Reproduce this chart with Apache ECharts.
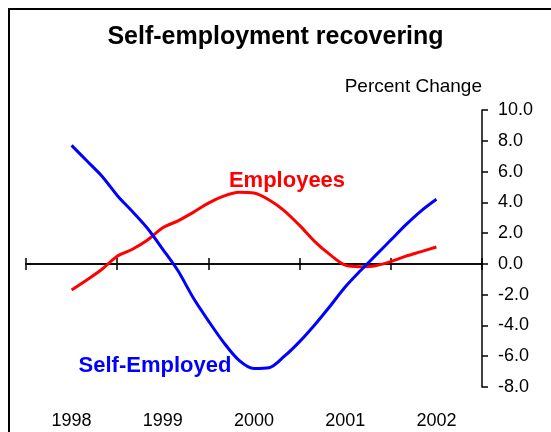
<!DOCTYPE html>
<html>
<head>
<meta charset="utf-8">
<script src="https://cdn.jsdelivr.net/npm/echarts@6/dist/echarts.min.js"></script>
<style>
  html, body { margin: 0; padding: 0; background: #fff; }
  #chart { width: 551px; height: 432px; }
</style>
</head>
<body>
<div id="chart"></div>
<script>
  // year labels on the category axis
  const years = ['1998', '1999', '2000', '2001', '2002']
  // months since Jan 1998 for each reading
  const months = [0, 2, 4, 6, 8, 10, 12, 14, 16, 18, 20, 22, 24, 26, 28, 30, 32, 34, 36, 38, 40, 42, 44, 46, 48]
  const employees = [-1.7, -1.05, -0.35, 0.5, 0.95, 1.55, 2.35, 2.8, 3.35, 3.95, 4.4, 4.65, 4.6,
    4.15, 3.45, 2.5, 1.45, 0.6, -0.08, -0.18, -0.12, 0.15, 0.5, 0.8, 1.1]
  const selfEmployed = [7.7, 6.7, 5.7, 4.45, 3.4, 2.3, 0.95, -0.45, -2.2, -3.7, -5.1, -6.25, -6.8,
    -6.75, -6.0, -5.05, -3.95, -2.75, -1.5, -0.45, 0.55, 1.55, 2.55, 3.45, 4.2]
  const yTicks = { min: -8, max: 10, step: 2 }

  const font = '"Liberation Sans", Arial, sans-serif'

  function pairs (vals) {
    let out = []
    for (let i = 0; i < vals.length; i++) {
      out.push([1998 + months[i] / 12, vals[i]])
    }
    return out
  }

  let myChart = echarts.init(document.getElementById('chart'))

  // zero line with ticks; drawn twice (down + up) so ticks cross the line
  let zeroAxis = function (inside, yIdx) {
    return {
      type: 'category',
      position: 'bottom',
      data: years,
      boundaryGap: true,
      axisLine: { show: true, onZero: true, onZeroAxisIndex: yIdx, lineStyle: { color: '#000', width: 1.5 } },
      axisTick: { show: true, inside: inside, length: 6, lineStyle: { color: '#000', width: 1.5 } },
      axisLabel: { show: false },
      splitLine: { show: false }
    }
  }

  let option = {
    animation: false,
    title: {
      text: 'Self-employment recovering',
      left: 'center',
      top: 20,
      textStyle: { fontFamily: font, fontSize: 25, fontWeight: 'bold', color: '#000' }
    },
    grid: { left: 26, right: 69, top: 110, bottom: 45 },
    xAxis: [
      zeroAxis(false, 0),
      zeroAxis(true, 1),
      {
        // year labels along the bottom
        type: 'category',
        position: 'bottom',
        data: years,
        boundaryGap: true,
        axisLine: { show: false, onZero: false },
        axisTick: { show: false },
        axisLabel: { fontFamily: font, fontSize: 18, color: '#000', margin: 25 },
        splitLine: { show: false }
      },
      {
        // hidden axis that places the monthly points
        type: 'value',
        min: 1997.5,
        max: 2002.5,
        show: false
      }
    ],
    yAxis: [
      {
        type: 'value',
        position: 'right',
        min: yTicks.min,
        max: yTicks.max,
        interval: yTicks.step,
        name: 'Percent Change',
        nameLocation: 'end',
        nameGap: 14,
        nameTextStyle: { fontFamily: font, fontSize: 19, color: '#000', align: 'right' },
        axisLine: { show: true, onZero: false, lineStyle: { color: '#000', width: 1.5 } },
        axisTick: { show: true, inside: false, length: 6, lineStyle: { color: '#000', width: 1.5 } },
        axisLabel: {
          fontFamily: font, fontSize: 18, color: '#000', margin: 16,
          formatter: function (v) { return v.toFixed(1) }
        },
        splitLine: { show: false }
      },
      {
        // twin of the first, only so the second zero line can sit on 0
        type: 'value',
        position: 'right',
        min: yTicks.min,
        max: yTicks.max,
        interval: yTicks.step,
        show: false
      }
    ],
    series: [
      {
        name: 'Employees',
        type: 'line',
        xAxisIndex: 3,
        data: pairs(employees),
        showSymbol: false,
        smooth: 0.3,
        lineStyle: { color: '#ff0000', width: 3 },
        itemStyle: { color: '#ff0000' }
      },
      {
        name: 'Self-Employed',
        type: 'line',
        xAxisIndex: 3,
        data: pairs(selfEmployed),
        showSymbol: false,
        smooth: 0.3,
        lineStyle: { color: '#0000ff', width: 3 },
        itemStyle: { color: '#0000ff' }
      }
    ],
    graphic: [
      {
        type: 'rect',
        shape: { x: 9, y: 9, width: 600, height: 500 },
        style: { fill: 'none', stroke: '#000', lineWidth: 2 },
        silent: true
      },
      {
        type: 'text',
        style: {
          x: 287, y: 181, text: 'Employees', textAlign: 'center', textVerticalAlign: 'middle',
          fontFamily: font, fontSize: 22, fontWeight: 'bold', fill: '#ff0000'
        }
      },
      {
        type: 'text',
        style: {
          x: 155, y: 366, text: 'Self-Employed', textAlign: 'center', textVerticalAlign: 'middle',
          fontFamily: font, fontSize: 22, fontWeight: 'bold', fill: '#0000ff'
        }
      }
    ]
  }

  myChart.setOption(option)
</script>
</body>
</html>
